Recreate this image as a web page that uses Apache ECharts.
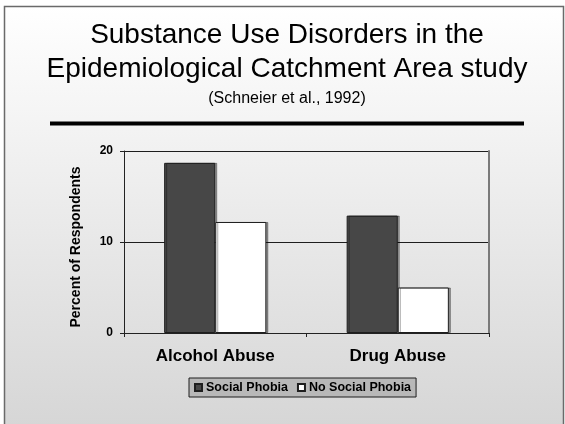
<!DOCTYPE html>
<html><head><meta charset="utf-8">
<script src="https://cdn.jsdelivr.net/npm/echarts@6/dist/echarts.min.js"></script>
<style>html,body{margin:0;padding:0;background:#fff}#c{width:565px;height:424px}</style>
</head><body><div id="c"></div>
<script>
const categories = ['Alcohol Abuse', 'Drug Abuse'];
const seriesNames = ['Social Phobia', 'No Social Phobia'];
const socialPhobia = [18.7, 12.9];
const noSocialPhobia = [12.2, 5.0];
const yMin = 0, yMax = 20, yStep = 10;
const titleLines = ['Substance Use Disorders in the', 'Epidemiological Catchment Area study'];
const subtitle = '(Schneier et al., 1992)';

const FONT = "'Liberation Sans', Arial, sans-serif";
const chart = echarts.init(document.getElementById('c'), null, {renderer: 'canvas'});
const barStyle = (fill) => ({
  color: fill, borderColor: '#1e1e1e', borderWidth: 1,
  shadowColor: 'rgba(0,0,0,0.35)', shadowOffsetX: 2, shadowOffsetY: 0, shadowBlur: 0
});
const txt = (s, x, y, size) => ({
  type: 'text', x: x, y: y, z: 10, silent: true,
  style: {text: s, fill: '#000', font: 'normal ' + size + 'px ' + FONT,
          align: 'center', textAlign: 'center', verticalAlign: 'middle', textVerticalAlign: 'middle'}
});
chart.setOption({
  animation: false,
  backgroundColor: '#ffffff',
  textStyle: {fontFamily: FONT},
  graphic: [
    {type: 'rect', z: -10, silent: true,
     shape: {x: 4.5, y: 6.5, width: 559, height: 440},
     style: {
       fill: new echarts.graphic.LinearGradient(0, 0, 0, 1, [
         {offset: 0, color: '#ffffff'}, {offset: 1, color: '#d4d4d4'}]),
       stroke: '#6a6a6a', lineWidth: 1.5
     }},
    {type: 'line', z: 5, silent: true,
     shape: {x1: 50, y1: 123.5, x2: 524, y2: 123.5},
     style: {stroke: '#000', lineWidth: 4}},
    txt(titleLines[0], 287, 35, 28),
    txt(titleLines[1], 287, 69, 28),
    txt(subtitle, 287, 99, 16)
  ],
  legend: {
    data: seriesNames, left: 189, top: 378, orient: 'horizontal',
    backgroundColor: '#b8b8b8', borderColor: '#1e1e1e', borderWidth: 1,
    padding: [3, 5, 3, 5], itemWidth: 7, itemHeight: 7, itemGap: 9, icon: 'rect',
    itemStyle: {shadowOffsetX: 0, shadowColor: 'transparent'},
    textStyle: {fontFamily: FONT, fontSize: 12.5, fontWeight: 'bold', color: '#000', padding: [0, 0, 0, -1]}
  },
  grid: {left: 124, right: 76, top: 151, bottom: 91, containLabel: false},
  xAxis: {
    type: 'category', data: categories,
    axisLine: {lineStyle: {color: '#222', width: 1}},
    axisTick: {show: true, alignWithLabel: false, length: 4, lineStyle: {color: '#222'}},
    axisLabel: {fontFamily: FONT, fontSize: 17, fontWeight: 'bold', color: '#000', margin: 15},
    splitLine: {show: false}
  },
  yAxis: [{
    type: 'value', min: yMin, max: yMax, interval: yStep,
    name: 'Percent of Respondents', nameLocation: 'middle', nameGap: 41,
    nameTextStyle: {fontFamily: FONT, fontSize: 14, fontWeight: 'bold', color: '#000', padding: [0, 10, 0, 0]},
    axisLine: {show: true, lineStyle: {color: '#222', width: 1}},
    axisTick: {show: true, length: 4, lineStyle: {color: '#222'}},
    axisLabel: {fontFamily: FONT, fontSize: 12, fontWeight: 'bold', color: '#000', margin: 11},
    splitLine: {show: true, lineStyle: {color: '#1e1e1e', width: 1}}
  }, {
    type: 'value', min: yMin, max: yMax, interval: yStep, position: 'right',
    axisLine: {show: true, lineStyle: {color: '#7a7a7a', width: 2}},
    axisTick: {show: false}, axisLabel: {show: false}, splitLine: {show: false}
  }],
  series: [
    {name: seriesNames[0], type: 'bar', data: socialPhobia, barWidth: '28%', barGap: '0%',
     itemStyle: barStyle('#474747')},
    {name: seriesNames[1], type: 'bar', data: noSocialPhobia, barWidth: '28%', barGap: '0%',
     itemStyle: barStyle('#ffffff')}
  ]
});
</script></body></html>
